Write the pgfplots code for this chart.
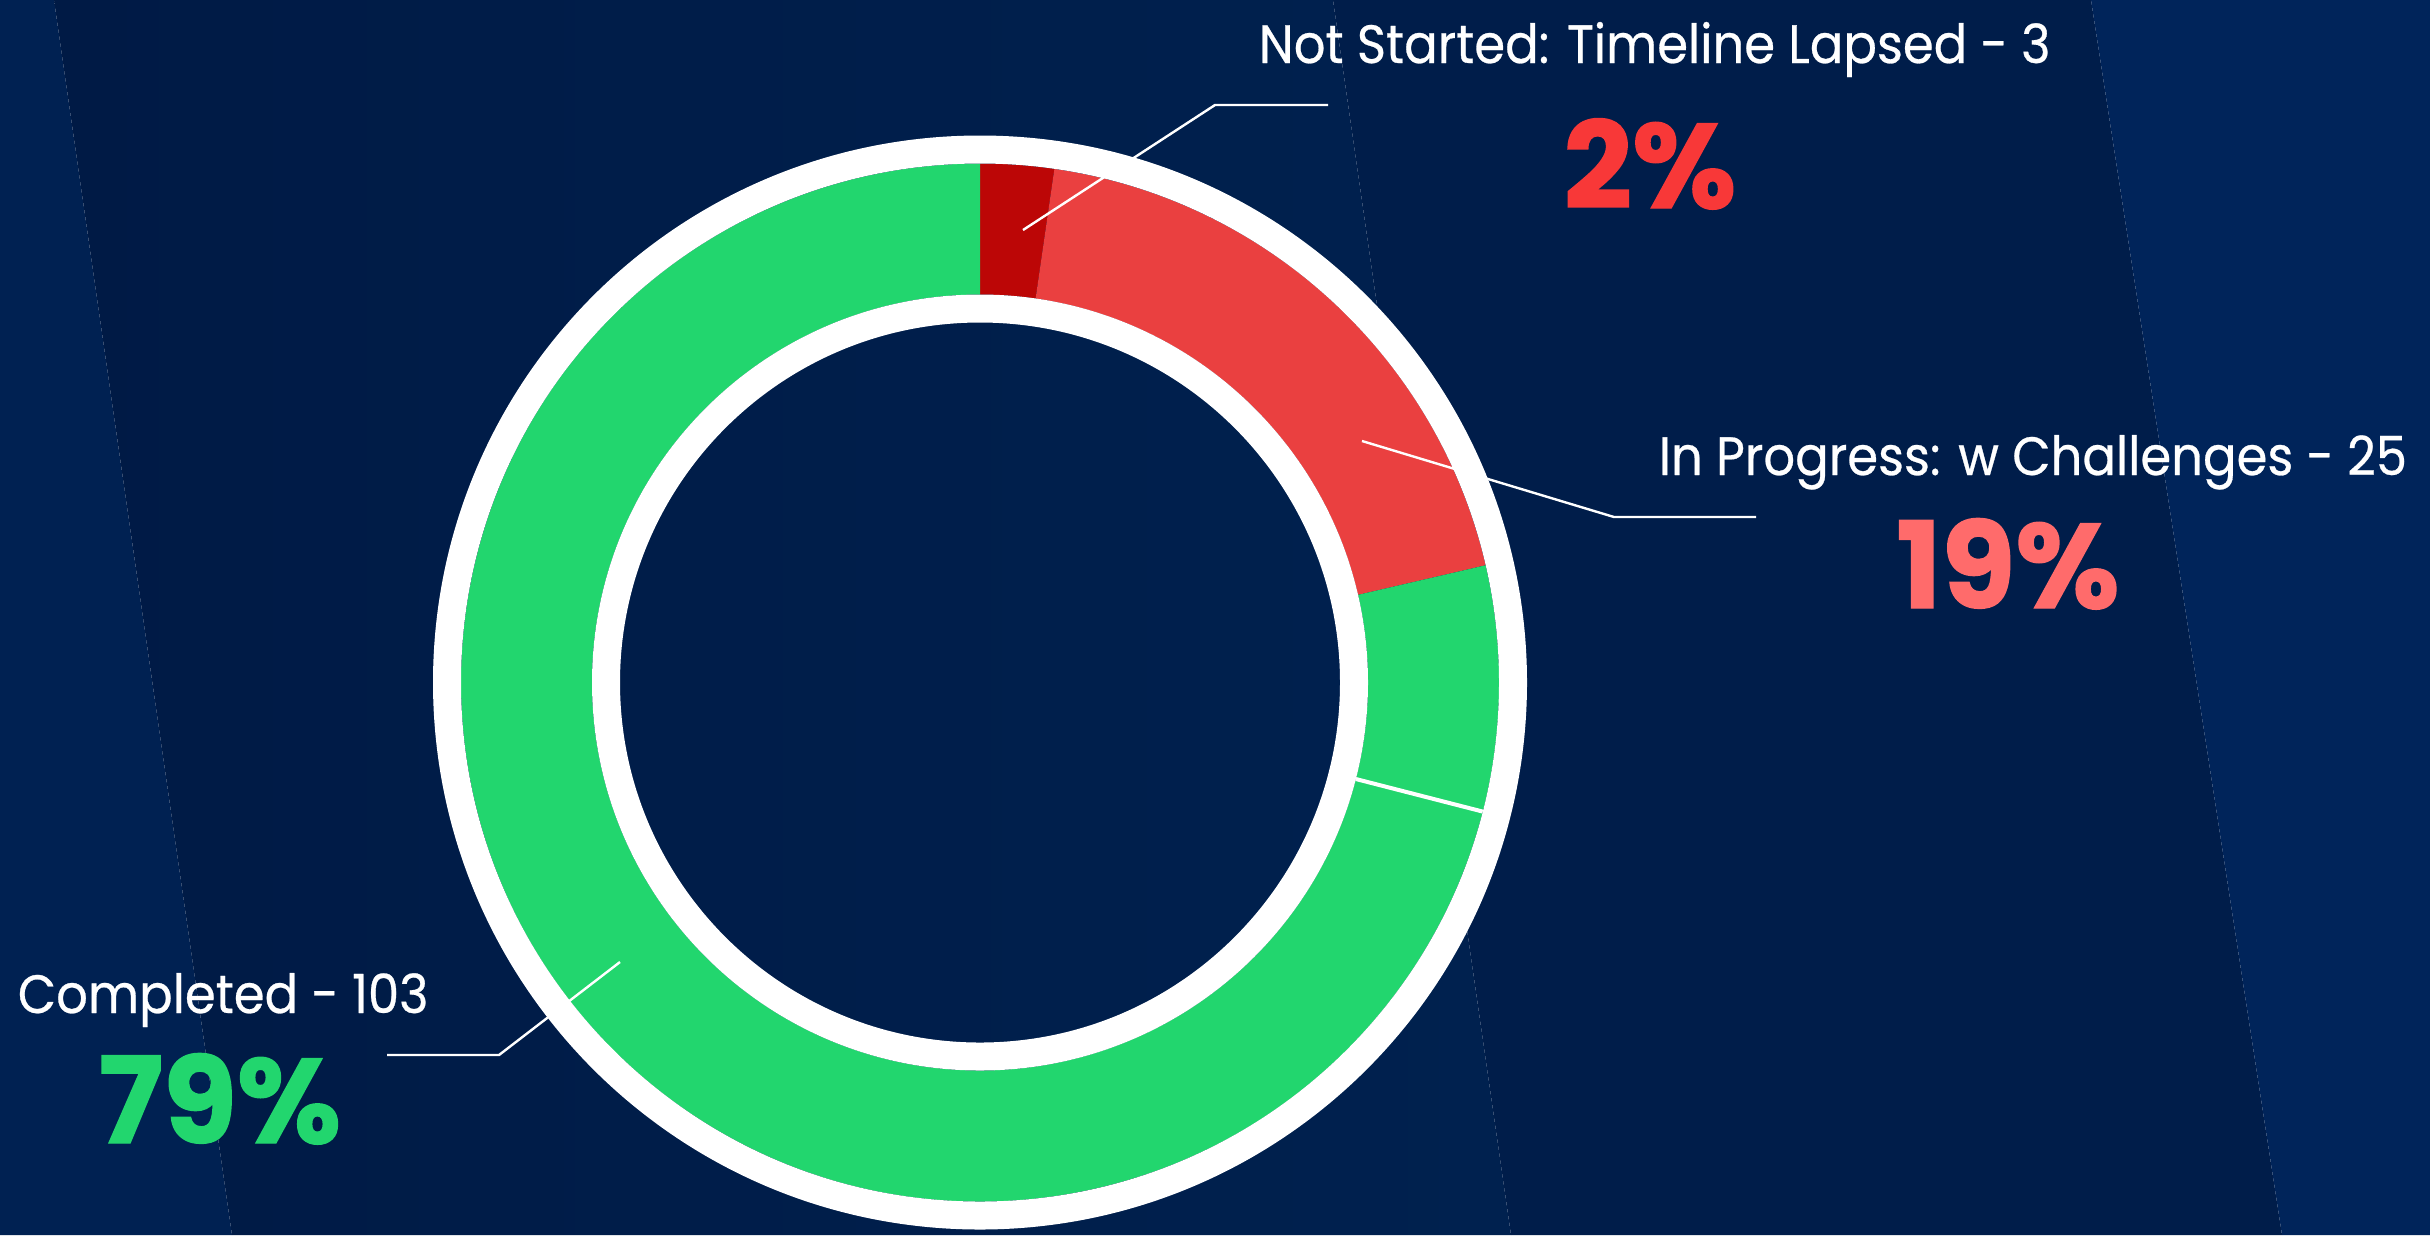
\documentclass[border=0pt]{standalone}
\usepackage{pgfplots}
\pgfplotsset{compat=1.18}
\usepackage{fontspec}
\setmainfont{Poppins}
\newfontfamily\lblfont[FakeStretch=0.92, FakeBold=0.5]{Poppins}
\newfontfamily\pctfont[BoldFeatures={FakeBold=1.2}]{Poppins}
\usetikzlibrary{calc}
\definecolor{bgone}{HTML}{002152}
\definecolor{bgtwoL}{HTML}{001A45}
\definecolor{bgtwoR}{HTML}{00214F}
\definecolor{bgthree}{HTML}{001D4A}
\definecolor{bgfour}{HTML}{00245A}
\definecolor{cgreen}{HTML}{22D66E}
\definecolor{cdarkred}{HTML}{BC0606}
\definecolor{clightred}{HTML}{EA4040}
\definecolor{pctA}{HTML}{F83838}
\definecolor{pctB}{HTML}{FF6B6B}
\definecolor{pctC}{HTML}{22D66E}
\begin{document}
\begin{tikzpicture}
% slice values
\def\vNS{3}\def\vIP{25}\def\vC{103}
\pgfmathsetmacro\tot{\vNS+\vIP+\vC}
\pgfmathsetmacro\aA{90}
\pgfmathsetmacro\aB{90-\vNS/\tot*360}
\pgfmathsetmacro\aC{90-(\vNS+\vIP)/\tot*360}
\pgfmathsetmacro\aD{-270}
\def\Rout{129.75pt}\def\Rin{97pt}
\newcommand\sector[3]{%
  \fill[#1] ($(axis cs:980,682.5)+(#2:\Rout)$) arc[start angle=#2, end angle=#3, radius=\Rout]
    -- ($(axis cs:980,682.5)+(#3:\Rin)$) arc[start angle=#3, end angle=#2, radius=\Rin] -- cycle;}
\begin{axis}[name=ax, hide axis, scale only axis, width=607.5pt, height=308.75pt,
  xmin=0, xmax=2430, ymin=0, ymax=1235, y dir=reverse, clip=false]
% background
\fill[bgone] (axis cs:0,0) -- (axis cs:54,0) -- (axis cs:232,1235) -- (axis cs:0,1235) -- cycle;
\shade[left color=bgtwoL, right color=bgtwoR] (axis cs:54,0) -- (axis cs:1333,0) -- (axis cs:1511,1235) -- (axis cs:232,1235) -- cycle;
\fill[bgthree] (axis cs:1333,0) -- (axis cs:2091,0) -- (axis cs:2282,1235) -- (axis cs:1511,1235) -- cycle;
\fill[bgfour] (axis cs:2091,0) -- (axis cs:2430,0) -- (axis cs:2430,1235) -- (axis cs:2282,1235) -- cycle;
% donut slices
\sector{cdarkred}{\aA}{\aB}
\sector{clightred}{\aB}{\aC}
\sector{cgreen}{\aC}{\aD}
% separator in the green slice
\draw[white, line width=1pt] ($(axis cs:980,682.5)+(-14.4:\Rin)$) -- ($(axis cs:980,682.5)+(-14.4:\Rout)$);
% white rings
\fill[white, even odd rule] (axis cs:980,682.5) circle[radius=136.75pt] (axis cs:980,682.5) circle[radius=\Rout];
\fill[white, even odd rule] (axis cs:980,682.5) circle[radius=\Rin] (axis cs:980,682.5) circle[radius=90pt];
% leader lines
\draw[white, line width=0.6pt] (axis cs:1023,230) -- (axis cs:1215,105) -- (axis cs:1328,105);
\draw[white, line width=0.6pt] (axis cs:1362,441) -- (axis cs:1614,517) -- (axis cs:1756,517);
\draw[white, line width=0.6pt] (axis cs:620,962) -- (axis cs:499,1055) -- (axis cs:387,1055);
% labels
\node[anchor=base west, inner sep=0pt, text=white, font=\lblfont\fontsize{13.5}{14}\selectfont] at (axis cs:1258,63) {Not Started: Timeline Lapsed - 3};
\node[anchor=base, inner sep=0pt, text=pctA, font=\pctfont\fontsize{30}{32}\selectfont\bfseries] at (axis cs:1650,208) {2\%};
\node[anchor=base west, inner sep=0pt, text=white, font=\lblfont\fontsize{13.5}{14}\selectfont] at (axis cs:1658,475) {In Progress: w Challenges - 25};
\node[anchor=base, inner sep=0pt, text=pctB, font=\pctfont\fontsize{30}{32}\selectfont\bfseries] at (axis cs:2008,608) {19\%};
\node[anchor=base west, inner sep=0pt, text=white, font=\lblfont\fontsize{13.5}{14}\selectfont] at (axis cs:17,1013) {Completed - 103};
\node[anchor=base, inner sep=0pt, text=pctC, font=\pctfont\fontsize{30}{32}\selectfont\bfseries] at (axis cs:220,1143) {79\%};
\end{axis}
\pgfresetboundingbox
\path[use as bounding box] (ax.south west) rectangle (ax.north east);
\end{tikzpicture}
\end{document}
